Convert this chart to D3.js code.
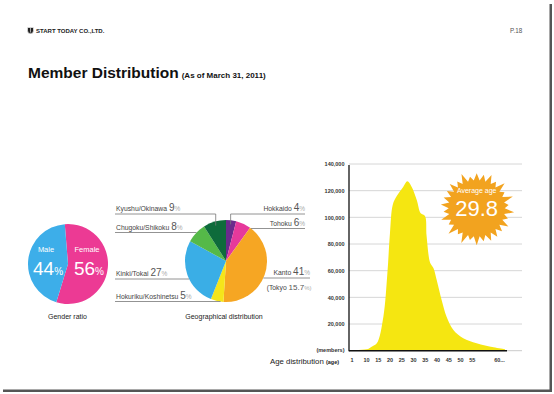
<!DOCTYPE html>
<html>
<head>
<meta charset="utf-8">
<script src="https://cdn.jsdelivr.net/npm/d3@7"></script>
<style>
  body { margin: 0; background: #fff; }
  text { font-family: "Liberation Sans", Arial, sans-serif; }
</style>
</head>
<body>
<div id="chart"></div>
<script>
// ---- data ----
const genderLabels = ["Female", "Male"];
const genderShares = [56, 44];

const regionNames = ["Hokkaido", "Tohoku", "Kanto", "Hokuriku/Koshinetsu", "Kinki/Tokai", "Chugoku/Shikoku", "Kyushu/Okinawa"];
const regionShares = [4, 6, 41, 5, 27, 8, 9];
const tokyoShare = 15.7;

// members by age
const ages    = [1,   10.3, 12.4, 14.6, 17.4,  19.1,  20.2,  21.4,   23.1,   25.9,   27.6,   29.4,   31.6,   33.3,   35.1,   35.8,  37.3,  38.7,  40.1,  42.2,  44.3,  47.2,  51.4, 55.9, 59,   61.1];
const members = [500, 1000, 3000, 5500, 25500, 58000, 88000, 109500, 116000, 123000, 127000, 123000, 113000, 103000, 101000, 86000, 66000, 62000, 53000, 38000, 25500, 15500, 9300, 5500, 2500, 1000];

const ageTicks = [1, 10, 15, 20, 25, 30, 35, 40, 45, 50, 55, 60];
const ageTickLabels = ["1", "10", "15", "20", "25", "30", "35", "40", "45", "50", "55", "60..."];
const memberTicks = [20000, 40000, 60000, 80000, 100000, 120000, 140000];
const averageAge = 29.8;

// ---- page ----
const W = 554, H = 394;
const svg = d3.select("#chart").append("svg")
    .attr("width", W)
    .attr("height", H);

// slide shadow edges
svg.append("rect").attr("x", 549.5).attr("y", 4).attr("width", 2.5).attr("height", 388).attr("fill", "#555");
svg.append("rect").attr("x", 3).attr("y", 389.5).attr("width", 549).attr("height", 2.5).attr("fill", "#555");

// header
svg.append("path")
    .attr("d", "M27.5,27.5 h6 v3 a3,3.2 0 0 1 -6,0 z M30.5,28 v4.5")
    .attr("fill", "#222").attr("stroke", "#fff").attr("stroke-width", 0.6);
svg.append("text").attr("x", 36).attr("y", 33)
    .attr("font-size", 6).attr("font-weight", "bold").attr("fill", "#222")
    .text("START TODAY CO.,LTD.");
svg.append("text").attr("x", 510).attr("y", 33)
    .attr("font-size", 6.3).attr("fill", "#555")
    .text("P.18");

const title = svg.append("text").attr("x", 28).attr("y", 78).attr("fill", "#111");
title.append("tspan").attr("font-size", 15.5).attr("font-weight", "bold").text("Member Distribution");
title.append("tspan").attr("dx", 3).attr("font-size", 8).attr("font-weight", "bold").text("(As of March 31, 2011)");

// ---- gender pie ----
const gCenter = [68, 264], gR = 40;
const genderColor = d3.scaleOrdinal().domain(genderLabels).range(["#ec3a94", "#3daee9"]);
const genderPie = d3.pie().sort(null).startAngle(-0.08).endAngle(-0.08 + 2 * Math.PI);
const genderArcs = genderPie(genderShares);
const gArc = d3.arc().innerRadius(0).outerRadius(gR);

const gg = svg.append("g").attr("transform", `translate(${gCenter})`);
gg.selectAll("path").data(genderArcs).enter().append("path")
    .attr("d", gArc)
    .attr("fill", (d, i) => genderColor(genderLabels[i]));

const gText = [{ i: 0, x: 19 }, { i: 1, x: -22 }];
gText.forEach(t => {
  gg.append("text").attr("x", t.x).attr("y", -12).attr("text-anchor", "middle")
      .attr("font-size", 7.5).attr("fill", "#fff").text(genderLabels[t.i]);
  const v = gg.append("text").attr("x", t.x + 2).attr("y", 11).attr("text-anchor", "middle").attr("fill", "#fff");
  v.append("tspan").attr("font-size", 19).text(genderShares[t.i]);
  v.append("tspan").attr("font-size", 10).text("%");
});
svg.append("text").attr("x", 67.5).attr("y", 319).attr("text-anchor", "middle")
    .attr("font-size", 7).attr("fill", "#222").text("Gender ratio");

// ---- geographical pie ----
const rCenter = [226, 261], rR = 41;
const regionColor = d3.scaleOrdinal().domain(regionNames)
    .range(["#6a2a8c", "#e6399b", "#f6a623", "#f5e51a", "#3aaee6", "#55b948", "#0e6b3b"]);
const regionArcs = d3.pie().sort(null)(regionShares);
const rArc = d3.arc().innerRadius(0).outerRadius(rR);

const rg = svg.append("g").attr("transform", `translate(${rCenter})`);
rg.selectAll("path").data(regionArcs).enter().append("path")
    .attr("d", rArc)
    .attr("fill", (d, i) => regionColor(regionNames[i]));

// label layout: side and baseline y for each region
const labelLayout = [
  { side: "right", y: 211, top: true },
  { side: "right", y: 225.5 },
  { side: "right", y: 275 },
  { side: "left",  y: 298.5 },
  { side: "left",  y: 276 },
  { side: "left",  y: 229.5 },
  { side: "left",  y: 211, top: true }
];
const leftX = 116, rightX = 305;
const lines = svg.append("g").attr("fill", "none").attr("stroke", "#777").attr("stroke-width", 0.8);

regionArcs.forEach((a, i) => {
  const L = labelLayout[i];
  const isLeft = L.side === "left";
  const xEnd = regionNames[i] === "Kanto" ? 310 : rightX;
  const t = svg.append("text")
      .attr("x", isLeft ? leftX : xEnd).attr("y", L.y)
      .attr("text-anchor", isLeft ? "start" : "end");
  t.append("tspan").attr("font-size", 6.8).attr("fill", "#444").text(regionNames[i] + " ");
  t.append("tspan").attr("font-size", 10).attr("fill", "#555").text(regionShares[i]);
  t.append("tspan").attr("font-size", 6.5).attr("fill", "#aaa").text("%");

  const ly = L.y + 3;
  let pts;
  if (L.top) {
    const mid = (a.startAngle + a.endAngle) / 2;
    const px = rCenter[0] + rR * 0.9 * Math.sin(mid);
    const py = rCenter[1] - rR * 0.9 * Math.cos(mid);
    pts = [[isLeft ? leftX - 1 : xEnd, ly], [px, ly], [px, py]];
  } else {
    const dy = Math.min(Math.abs(ly - rCenter[1]), rR - 1);
    const dx = Math.sqrt(rR * rR - dy * dy);
    const ex = rCenter[0] + (isLeft ? -dx : dx) * (ly > rCenter[1] + 38 ? 0.6 : 1);
    pts = [[isLeft ? leftX - 1 : xEnd, ly], [ex, ly]];
  }
  lines.append("path").attr("d", d3.line()(pts));
});

const tokyo = svg.append("text").attr("x", 311.5).attr("y", 289.5).attr("text-anchor", "end");
tokyo.append("tspan").attr("font-size", 6.8).attr("fill", "#444").text("(Tokyo ");
tokyo.append("tspan").attr("font-size", 8).attr("fill", "#555").text(tokyoShare);
tokyo.append("tspan").attr("font-size", 6).attr("fill", "#aaa").text("%)");

svg.append("text").attr("x", 224).attr("y", 319).attr("text-anchor", "middle")
    .attr("font-size", 7).attr("fill", "#222").text("Geographical distribution");

// ---- age distribution ----
const x = d3.scaleLinear().domain([1, 10, 55, 60]).range([351.5, 366, 471.7, 499]);
const y = d3.scaleLinear().domain([0, 140000]).range([350.7, 164]);

// gridlines
svg.append("g").selectAll("line").data(memberTicks).enter().append("line")
    .attr("x1", 349).attr("x2", 522)
    .attr("y1", d => y(d)).attr("y2", d => y(d))
    .attr("stroke", "#ccc").attr("stroke-width", 0.8);
svg.append("line").attr("x1", 349).attr("x2", 522).attr("y1", y(0)).attr("y2", y(0))
    .attr("stroke", "#bbb").attr("stroke-width", 0.8);

const area = d3.area()
    .x((d, i) => x(ages[i]))
    .y0(y(0))
    .y1(d => y(d))
    .curve(d3.curveCatmullRom.alpha(0.5));
svg.append("path").datum(members)
    .attr("d", area)
    .attr("fill", "#f5e611");

// axes lines
svg.append("line").attr("x1", 349).attr("x2", 349).attr("y1", y(140000) + 1).attr("y2", y(0) + 0.5)
    .attr("stroke", "#111").attr("stroke-width", 1.3);
svg.append("line").attr("x1", 349).attr("x2", 507).attr("y1", y(0)).attr("y2", y(0))
    .attr("stroke", "#111").attr("stroke-width", 1.5);

const yAxis = svg.append("g").attr("transform", "translate(344.5,0)")
    .call(d3.axisLeft(y).tickValues(memberTicks).tickSize(0).tickPadding(0).tickFormat(d3.format(",")));
yAxis.select(".domain").remove();
yAxis.selectAll("text").attr("font-size", 5.5).attr("font-weight", "bold").attr("fill", "#333")
    .attr("font-family", "'Liberation Sans', Arial, sans-serif");
svg.append("text").attr("x", 344.5).attr("y", y(0) + 1).attr("text-anchor", "end")
    .attr("font-size", 5.5).attr("font-weight", "bold").attr("fill", "#333").text("(members)");

const xAxis = svg.append("g").attr("transform", `translate(0,${y(0)})`)
    .call(d3.axisBottom(x).tickValues(ageTicks).tickSize(0).tickPadding(7)
      .tickFormat((d, i) => ageTickLabels[i]));
xAxis.select(".domain").remove();
xAxis.selectAll("text").attr("font-size", 5.5).attr("font-weight", "bold").attr("fill", "#333")
    .attr("font-family", "'Liberation Sans', Arial, sans-serif");

const ageLabel = svg.append("text").attr("x", 270).attr("y", 363.5).attr("fill", "#222");
ageLabel.append("tspan").attr("font-size", 7.8).text("Age distribution ");
ageLabel.append("tspan").attr("font-size", 5.5).attr("font-weight", "bold").text("(age)");

// average age starburst
const star = [476.7, 208.3];
const nSpikes = 30;
const starPts = d3.range(nSpikes * 2).map(k => {
  const ang = (k / (nSpikes * 2)) * 2 * Math.PI;
  const r = k % 2 === 0 ? 35 + 3 * Math.sin(k * 1.7) : 28;
  return [star[0] + r * Math.sin(ang), star[1] - r * Math.cos(ang)];
});
svg.append("path").attr("d", d3.line().curve(d3.curveLinearClosed)(starPts)).attr("fill", "#f2a31f");
svg.append("text").attr("x", star[0]).attr("y", 193).attr("text-anchor", "middle")
    .attr("font-size", 7).attr("fill", "#fff").text("Average age");
svg.append("text").attr("x", star[0]).attr("y", 216).attr("text-anchor", "middle")
    .attr("font-size", 22).attr("fill", "#fff").text(averageAge);
</script>
</body>
</html>
